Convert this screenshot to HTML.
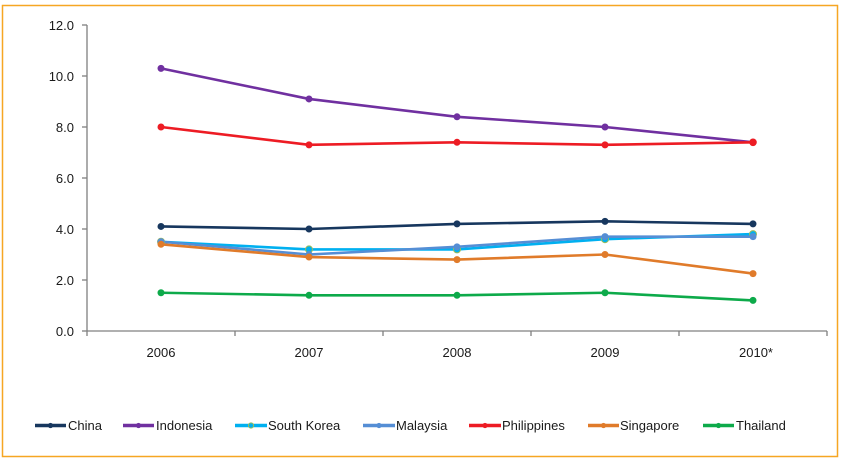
<!DOCTYPE html>
<html>
<head>
<meta charset="utf-8">
<style>
  html,body{margin:0;padding:0;background:#fff;}
  svg{display:block;}
  text{font-family:"Liberation Sans",Arial,sans-serif;font-size:13px;fill:#1a1a1a;}
</style>
</head>
<body>
<svg width="844" height="461" viewBox="0 0 844 461" xmlns="http://www.w3.org/2000/svg">
  <rect x="0" y="0" width="844" height="461" fill="#fff"/>
  <rect x="2.5" y="5.5" width="835" height="451" fill="none" stroke="#F6A623" stroke-width="1.5"/>

  <!-- axes -->
  <g stroke="#808080" stroke-width="1.3" fill="none">
    <line x1="87" y1="25" x2="87" y2="331"/>
    <line x1="87" y1="331" x2="827" y2="331"/>
    <!-- y ticks -->
    <line x1="82" y1="25" x2="87" y2="25"/>
    <line x1="82" y1="76" x2="87" y2="76"/>
    <line x1="82" y1="127" x2="87" y2="127"/>
    <line x1="82" y1="178" x2="87" y2="178"/>
    <line x1="82" y1="229" x2="87" y2="229"/>
    <line x1="82" y1="280" x2="87" y2="280"/>
    <line x1="82" y1="331" x2="87" y2="331"/>
    <!-- x ticks -->
    <line x1="87" y1="331" x2="87" y2="336"/>
    <line x1="235" y1="331" x2="235" y2="336"/>
    <line x1="383" y1="331" x2="383" y2="336"/>
    <line x1="531" y1="331" x2="531" y2="336"/>
    <line x1="679" y1="331" x2="679" y2="336"/>
    <line x1="827" y1="331" x2="827" y2="336"/>
  </g>

  <!-- y labels -->
  <g text-anchor="end">
    <text x="74" y="30">12.0</text>
    <text x="74" y="81">10.0</text>
    <text x="74" y="132">8.0</text>
    <text x="74" y="183">6.0</text>
    <text x="74" y="234">4.0</text>
    <text x="74" y="285">2.0</text>
    <text x="74" y="336">0.0</text>
  </g>
  <!-- x labels -->
  <g text-anchor="middle">
    <text x="161" y="357">2006</text>
    <text x="309" y="357">2007</text>
    <text x="457" y="357">2008</text>
    <text x="605" y="357">2009</text>
    <text x="756" y="357">2010*</text>
  </g>

  <!-- series -->
  <g fill="none" stroke-width="2.6" stroke-linejoin="round">
    <polyline stroke="#17375E" points="161,226.45 309,229 457,223.9 605,221.35 753,223.9"/>
    <polyline stroke="#7030A0" points="161,68.35 309,98.95 457,116.8 605,127 753,142.3"/>
    <polyline stroke="#00B0F0" points="161,241.75 309,249.4 457,249.4 605,239.2 753,234.1"/>
    <polyline stroke="#558ED5" points="161,241.75 309,254.5 457,246.85 605,236.65 753,236.65"/>
    <polyline stroke="#ED1C24" points="161,127 309,144.85 457,142.3 605,144.85 753,142.3"/>
    <polyline stroke="#E07B2A" points="161,244.3 309,257.05 457,259.6 605,254.5 753,273.6"/>
    <polyline stroke="#0DAA4A" points="161,292.75 309,295.3 457,295.3 605,292.75 753,300.4"/>
  </g>
  <!-- markers -->
  <g fill="#17375E">
    <circle cx="161" cy="226.45" r="3.5"/><circle cx="309" cy="229" r="3.5"/><circle cx="457" cy="223.9" r="3.5"/><circle cx="605" cy="221.35" r="3.5"/><circle cx="753" cy="223.9" r="3.5"/>
  </g>
  <g fill="#7030A0">
    <circle cx="161" cy="68.35" r="3.5"/><circle cx="309" cy="98.95" r="3.5"/><circle cx="457" cy="116.8" r="3.5"/><circle cx="605" cy="127" r="3.5"/><circle cx="753" cy="142.3" r="3.5"/>
  </g>
  <g fill="#00B0F0" stroke="#9BBB59" stroke-width="1">
    <circle cx="161" cy="241.75" r="3.5"/><circle cx="309" cy="249.4" r="3.5"/><circle cx="457" cy="249.4" r="3.5"/><circle cx="605" cy="239.2" r="3.5"/><circle cx="753" cy="234.1" r="3.5"/>
  </g>
  <g fill="#558ED5">
    <circle cx="161" cy="241.75" r="3.5"/><circle cx="309" cy="254.5" r="3.5"/><circle cx="457" cy="246.85" r="3.5"/><circle cx="605" cy="236.65" r="3.5"/><circle cx="753" cy="236.65" r="3.5"/>
  </g>
  <g fill="#ED1C24">
    <circle cx="161" cy="127" r="3.5"/><circle cx="309" cy="144.85" r="3.5"/><circle cx="457" cy="142.3" r="3.5"/><circle cx="605" cy="144.85" r="3.5"/><circle cx="753" cy="142.3" r="3.8"/>
  </g>
  <g fill="#E07B2A">
    <circle cx="161" cy="244.3" r="3.5"/><circle cx="309" cy="257.05" r="3.5"/><circle cx="457" cy="259.6" r="3.5"/><circle cx="605" cy="254.5" r="3.5"/><circle cx="753" cy="273.6" r="3.5"/>
  </g>
  <g fill="#0DAA4A">
    <circle cx="161" cy="292.75" r="3.5"/><circle cx="309" cy="295.3" r="3.5"/><circle cx="457" cy="295.3" r="3.5"/><circle cx="605" cy="292.75" r="3.5"/><circle cx="753" cy="300.4" r="3.5"/>
  </g>

  <!-- legend -->
  <g stroke-width="3.5" fill="none">
    <line x1="35" y1="425.5" x2="66" y2="425.5" stroke="#17375E"/>
    <line x1="123" y1="425.5" x2="154" y2="425.5" stroke="#7030A0"/>
    <line x1="235" y1="425.5" x2="267" y2="425.5" stroke="#00B0F0"/>
    <line x1="363" y1="425.5" x2="395" y2="425.5" stroke="#558ED5"/>
    <line x1="469" y1="425.5" x2="501" y2="425.5" stroke="#ED1C24"/>
    <line x1="588" y1="425.5" x2="619" y2="425.5" stroke="#E07B2A"/>
    <line x1="703" y1="425.5" x2="734" y2="425.5" stroke="#0DAA4A"/>
  </g>
  <circle cx="50.5" cy="425.5" r="2.6" fill="#17375E"/>
  <circle cx="138.5" cy="425.5" r="2.6" fill="#7030A0"/>
  <circle cx="251" cy="425.5" r="2.6" fill="#00B0F0" stroke="#9BBB59" stroke-width="1"/>
  <circle cx="379" cy="425.5" r="2.6" fill="#558ED5"/>
  <circle cx="485" cy="425.5" r="2.6" fill="#ED1C24"/>
  <circle cx="603.5" cy="425.5" r="2.6" fill="#E07B2A"/>
  <circle cx="718.5" cy="425.5" r="2.6" fill="#0DAA4A"/>
  <g>
    <text x="68" y="430">China</text>
    <text x="156" y="430">Indonesia</text>
    <text x="268" y="430">South Korea</text>
    <text x="396" y="430">Malaysia</text>
    <text x="502" y="430">Philippines</text>
    <text x="620" y="430">Singapore</text>
    <text x="736" y="430">Thailand</text>
  </g>
</svg>
</body>
</html>
